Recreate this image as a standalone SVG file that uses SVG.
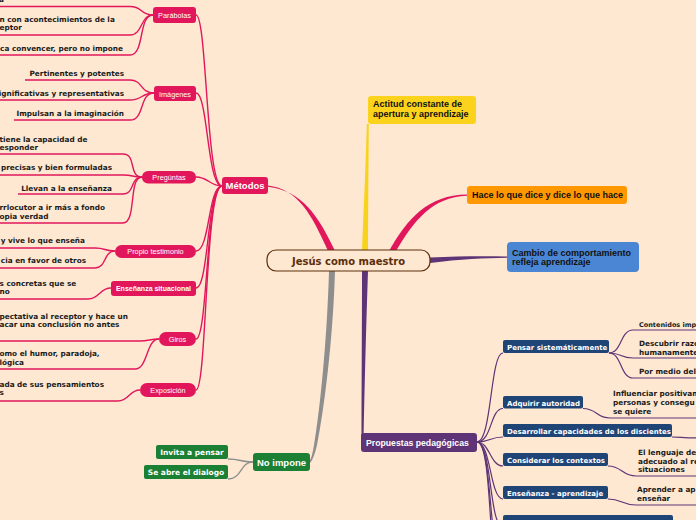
<svg xmlns="http://www.w3.org/2000/svg" width="696" height="520" viewBox="0 0 696 520">
<style>
.leaf{font-family:"DejaVu Sans",Verdana,sans-serif;font-weight:bold;font-size:7.3px;fill:#1b1b1b}
.leafs{font-family:"DejaVu Sans",Verdana,sans-serif;font-weight:bold;font-size:6.5px;fill:#1b1b1b}
.end{text-anchor:end}
.pk{fill:#E2175B}
.pkl{fill:none;stroke:#E2175B;stroke-width:1.4}
.pul{fill:none;stroke:#5E3476;stroke-width:1.2}
.gyl{fill:none;stroke:#8E8E8E;stroke-width:1.3}
.sub{font-family:"Liberation Sans",Arial,sans-serif;font-size:7.3px;fill:#fff;text-anchor:middle}
.db{fill:#1F4476}
.dbt{font-family:"DejaVu Sans",Verdana,sans-serif;font-weight:bold;font-size:7px;fill:#fff}
.main{font-family:"Liberation Sans",Arial,sans-serif;font-weight:bold;font-size:9px;fill:#111}
.wt{font-family:"Liberation Sans",Arial,sans-serif;font-weight:bold;font-size:9.5px;fill:#fff}
.gt{font-family:"DejaVu Sans",Verdana,sans-serif;font-weight:bold;font-size:7.5px;fill:#fff;text-anchor:middle}
</style>
<rect width="696" height="520" fill="#FEE8D2"/>

<g id="connectors">
  <path d="M328 251 C312 215 298 189 268 185.5 L268 186.8 C302 191 318 215 335 251 Z" fill="#E2175B"/>
  <path d="M362 251 C364 200 366 160 366.8 124 L368.8 124 C368.5 160 368.3 200 368 251 Z" fill="#F9D21B"/>
  <path d="M389 251 C408 218 428 195 467 194.5 L467 195.8 C432 197 414 221 396 251 Z" fill="#E2175B"/>
  <path d="M430 257.5 C460 256 485 256 507 256.5 L507 257.7 C485 258 460 259 430 263 Z" fill="#5E3476"/>
  <path d="M362 271 L368 271 C366 330 364.5 390 363.5 440 L361.5 440 C361.5 390 362 330 362 271 Z" fill="#5E3476"/>
  <path d="M329 271 C327 340 320 410 314 445 Q312 458 309 462 L310.5 462.5 Q314 458 317 445 C324 410 333 340 335 271 Z" fill="#8E8E8E"/>

  <path class="pkl" d="M222 186 C206 186 207 15 196 15"/>
  <path class="pkl" d="M222 186 C207 186 208 93 196 93"/>
  <path class="pkl" d="M222 186 C210 186 208 177 196 177"/>
  <path class="pkl" d="M222 186 C208 186 210 251 196 251"/>
  <path class="pkl" d="M222 186 C207 186 209 288 196 288"/>
  <path class="pkl" d="M222 186 C206 186 208 339 196 339"/>
  <path class="pkl" d="M222 186 C205 186 207 390 196 390"/>

  <path class="pkl" d="M153 15 C140 15 143 6.5 130 6.5 L-5 6.5"/>
  <path class="pkl" d="M153 15 C140 15 143 35 130 35 L-5 35"/>
  <path class="pkl" d="M153 15 C138 15 145 55 130 55 L-5 55"/>
  <path class="pkl" d="M154 93 C140 93 143 80 130 80 L25 80"/>
  <path class="pkl" d="M154 93 C141 93 143 100 130 100 L-5 100"/>
  <path class="pkl" d="M154 93 C139 93 145 120 130 120 L14 120"/>
  <path class="pkl" d="M142 177 C128 177 137 154 123 154 L-5 154"/>
  <path class="pkl" d="M142 177 C130 177 135 175 123 175 L-5 175"/>
  <path class="pkl" d="M142 177 C130 177 135 194 123 194 L18 194"/>
  <path class="pkl" d="M142 177 C128 177 137 223 123 223 L-5 223"/>
  <path class="pkl" d="M115 251 C104 251 106 248 95 248 L-5 248"/>
  <path class="pkl" d="M115 251 C103 251 107 268 95 268 L-5 268"/>
  <path class="pkl" d="M111 288 C99 288 100 299 88 299 L-5 299"/>
  <path class="pkl" d="M159 339 C150 339 149 341 140 341 L-5 341"/>
  <path class="pkl" d="M159 339 C146 339 148 369 135 369 L-5 369"/>
  <path class="pkl" d="M140 390 C129 390 129 401 118 401 L-5 401"/>

  <path class="gyl" d="M253 462 C240 462 241 459 228 459"/>
  <path class="gyl" d="M253 462 C240 462 242 479 228 479"/>

  <path class="pul" d="M477 442 C492 442 490 353 503 353"/>
  <path class="pul" d="M477 442 C492 442 490 408.5 503 408.5"/>
  <path class="pul" d="M477 442 C490 442 490 437 503 437"/>
  <path class="pul" d="M477 442 C490 442 490 466 503 466"/>
  <path class="pul" d="M477 442 C491 442 490 499 503 499"/>
  <path class="pul" d="M477 442 C492 442 489 527 503 527"/>
  <path class="pul" d="M477 442 C493 442 488 560 503 560"/>
  <path class="pul" d="M477 442 C494 442 487 590 503 590"/>

  <path class="pul" d="M609 353 C622 353 620 330 633 330 L700 330"/>
  <path class="pul" d="M609 353 C622 353 620 358 633 358 L700 358"/>
  <path class="pul" d="M609 353 C622 353 620 378 633 378 L700 378"/>
  <path class="pul" d="M583 408.5 C597 408.5 596 418 610 418 L700 418"/>
  <path class="pul" d="M672 437 C680 437 684 438 700 438"/>
  <path class="pul" d="M608 466 C622 466 622 476 636 476 L700 476"/>
  <path class="pul" d="M608 499 C622 499 622 505 636 505 L700 505"/>
</g>

<g id="central">
  <rect x="267" y="250" width="163" height="21" rx="9" fill="#FEE8D2" stroke="#5C2E0A" stroke-width="1.2"/>
  <text x="348.5" y="264.5" text-anchor="middle" font-family="DejaVu Sans, Verdana, sans-serif" font-weight="bold" font-size="10px" fill="#5C2E0A">Jesús como maestro</text>
</g>

<g id="metodos">
  <rect x="222" y="177" width="46" height="17" rx="3" class="pk"/>
  <text x="245" y="189" text-anchor="middle" class="wt">Métodos</text>
</g>

<g id="parabolas">
  <rect x="153" y="7" width="43" height="16" rx="3" class="pk"/>
  <text x="174.5" y="18" class="sub">Parábolas</text>
  <text x="4" y="2" class="leaf end">a</text>
  <text x="-0.5" y="22" class="leaf">n con acontecimientos de la</text>
  <text x="-0.5" y="29.5" class="leaf">eptor</text>
  <text x="123" y="51" class="leaf end">ca convencer, pero no impone</text>
</g>

<g id="imagenes">
  <rect x="154" y="86" width="42" height="15" rx="3" class="pk"/>
  <text x="175" y="96.5" class="sub">Imágenes</text>
  <text x="124" y="75.5" class="leaf end">Pertinentes y potentes</text>
  <text x="124" y="95.5" class="leaf end">ignificativas y representativas</text>
  <text x="124" y="116" class="leaf end">Impulsan a la imaginación</text>
</g>

<g id="preguntas">
  <rect x="142" y="171" width="54" height="12.5" rx="6" class="pk"/>
  <text x="169" y="180" class="sub">Pregúntas</text>
  <text x="-0.5" y="141.5" class="leaf">tiene la capacidad de</text>
  <text x="-0.5" y="149.5" class="leaf">esponder</text>
  <text x="112" y="169.5" class="leaf end">precisas y bien formuladas</text>
  <text x="112" y="190.5" class="leaf end">Llevan a la enseñanza</text>
  <text x="-0.5" y="210" class="leaf">rrlocutor a ir más a fondo</text>
  <text x="-0.5" y="218.5" class="leaf">opia verdad</text>
</g>

<g id="testimonio">
  <rect x="115" y="245" width="81" height="13" rx="6.5" class="pk"/>
  <text x="155.5" y="254.2" class="sub">Propio testimonio</text>
  <text x="85" y="243" class="leaf end">y vive lo que enseña</text>
  <text x="86" y="263" class="leaf end">cia en favor de otros</text>
</g>

<g id="situacional">
  <rect x="111" y="281" width="85" height="15" rx="3" class="pk"/>
  <text x="153.5" y="291" class="sub" style="font-weight:bold;font-size:7px">Enseñanza situacional</text>
  <text x="-0.5" y="286" class="leaf">s concretas que se</text>
  <text x="-0.5" y="294" class="leaf">no</text>
</g>

<g id="giros">
  <rect x="159" y="332" width="37" height="14" rx="7" class="pk"/>
  <text x="177.5" y="342" class="sub">Giros</text>
  <text x="-0.5" y="318.5" class="leaf">pectativa al receptor y hace un</text>
  <text x="-0.5" y="327" class="leaf">acar una conclusión no antes</text>
  <text x="-0.5" y="356" class="leaf">omo el humor, paradoja,</text>
  <text x="-0.5" y="364.5" class="leaf">lógica</text>
</g>

<g id="exposicion">
  <rect x="140" y="383" width="56" height="14" rx="7" class="pk"/>
  <text x="168" y="393" class="sub">Exposición</text>
  <text x="-0.5" y="387" class="leaf">ada de sus pensamientos</text>
  <text x="-0.5" y="395" class="leaf">s</text>
</g>

<g id="actitud">
  <rect x="368" y="96" width="108" height="28" rx="3" fill="#FBD31D"/>
  <text x="373" y="107" class="main">Actitud constante de</text>
  <text x="373" y="116.5" class="main">apertura y aprendizaje</text>
</g>

<g id="hace">
  <rect x="467" y="186" width="160" height="18" rx="3" fill="#FF9700"/>
  <text x="472" y="198" class="main">Hace lo que dice y dice lo que hace</text>
</g>

<g id="cambio">
  <rect x="507" y="242" width="132" height="30" rx="4" fill="#4A86D4"/>
  <text x="512" y="255.5" class="main">Cambio de comportamiento</text>
  <text x="512" y="265" class="main">refleja aprendizaje</text>
</g>

<g id="propuestas">
  <rect x="361" y="433" width="116" height="19" rx="3" fill="#5E3476"/>
  <text x="366" y="446" class="wt" style="font-size:8.7px">Propuestas pedagógicas</text>
</g>

<g id="noimpone">
  <rect x="253" y="453" width="57" height="18" rx="3" fill="#1B7F34"/>
  <text x="281.5" y="465.5" class="wt" text-anchor="middle">No impone</text>
</g>
<g id="invita">
  <rect x="156" y="445" width="72" height="14" rx="2" fill="#1B7F34"/>
  <text x="192" y="455" class="gt">Invita a pensar</text>
</g>
<g id="dialogo">
  <rect x="144" y="465" width="84" height="14" rx="2" fill="#1B7F34"/>
  <text x="186" y="475" class="gt">Se abre el dialogo</text>
</g>

<g id="pensar">
  <rect x="503" y="340" width="106" height="13" rx="2" class="db"/>
  <text x="507" y="349.5" class="dbt">Pensar sistemáticamente</text>
  <text x="639" y="326.5" class="leafs">Contenidos imp</text>
  <text x="639" y="346" class="leaf">Descubrir razo</text>
  <text x="639" y="354.5" class="leaf">humanamente</text>
  <text x="639" y="374" class="leaf">Por medio del</text>
</g>

<g id="autoridad">
  <rect x="503" y="396" width="80" height="12.5" rx="2" class="db"/>
  <text x="507" y="405.5" class="dbt">Adquirir autoridad</text>
  <text x="613" y="396" class="leaf">Influenciar positivam</text>
  <text x="613" y="405" class="leaf">personas y consegu</text>
  <text x="613" y="414" class="leaf">se quiere</text>
</g>

<g id="desarrollar">
  <rect x="503" y="424" width="169" height="13" rx="2" class="db"/>
  <text x="507" y="433.5" class="dbt">Desarrollar capacidades de los discientes</text>
</g>

<g id="contextos">
  <rect x="503" y="453" width="105" height="13" rx="2" class="db"/>
  <text x="507" y="462.5" class="dbt">Considerar los contextos</text>
  <text x="638" y="455" class="leaf">El lenguaje de</text>
  <text x="638" y="463.5" class="leaf">adecuado al re</text>
  <text x="638" y="472" class="leaf">situaciones</text>
</g>

<g id="ensenanza">
  <rect x="503" y="486" width="105" height="13" rx="2" class="db"/>
  <text x="507" y="495.5" class="dbt">Enseñanza - aprendizaje</text>
  <text x="637" y="492" class="leaf">Aprender a ap</text>
  <text x="637" y="500.5" class="leaf">enseñar</text>
</g>

<g id="bottom-node">
  <rect x="503" y="515" width="170" height="14" rx="2" class="db"/>
</g>
</svg>
